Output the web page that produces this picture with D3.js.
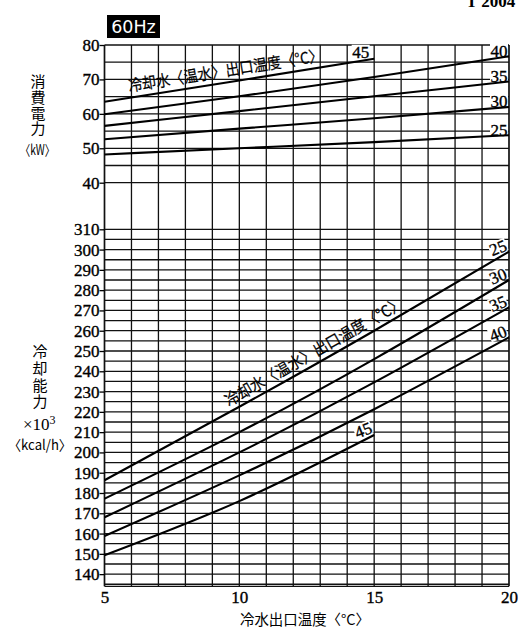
<!DOCTYPE html>
<html><head><meta charset="utf-8">
<script src="https://cdn.jsdelivr.net/npm/d3@7/dist/d3.min.js"></script>
<style>body{margin:0;background:#fff}svg{display:block}</style>
</head><body>
<svg id="c" width="520" height="632"></svg>
<script>
// ---- data ----
const xTicks = [5, 10, 15, 20];
const powerTicks = [40, 50, 60, 70, 80];
const capTicks = [140,150,160,170,180,190,200,210,220,230,240,250,260,270,280,290,300,310];
const chilledX = [5, 10, 15, 20];
const coolTemps = ["25", "30", "35", "40", "45"];
const power25 = [48.2, 50.0, 51.8, 53.8];
const power30 = [52.6, 55.7, 58.7, 62.0];
const power35 = [56.5, 60.8, 65.1, 69.4];
const power40 = [59.9, 65.1, 70.7, 76.7];
const power45 = [63.5, 69.7, 76.0];
const cap25 = [186.3, 222.5, 260.0, 299.0];
const cap30 = [177.2, 210.0, 246.0, 285.0];
const cap35 = [168.0, 200.0, 234.5, 271.5];
const cap40 = [158.8, 188.7, 221.3, 256.7];
const cap45 = [149.3, 176.0, 208.6];
const curveLabel = "冷却水〈温水〉出口温度〈°C〉";
const powerTitle = "消費電力";
const capTitle = "冷却能力";

// ---- scales ----
const svg = d3.select("#c");
const x = d3.scaleLinear().domain([5, 20]).range([104.5, 509]);
const yP = d3.scaleLinear().domain([40, 80]).range([182.7, 45]);
const yC = d3.scaleLinear().domain([134, 310]).range([586.3, 229.3]);
const serif = "'Liberation Serif','Times New Roman',serif";
const cjk = "'Noto Sans CJK JP','Noto Sans CJK SC',sans-serif";

const powerSeries = [power25, power30, power35, power40, power45].map((v, i) => ({t: coolTemps[i], pts: v.map((d, j) => [chilledX[j], d])}));
const capSeries = [cap25, cap30, cap35, cap40, cap45].map((v, i) => ({t: coolTemps[i], pts: v.map((d, j) => [chilledX[j], d])}));

// ---- grid ----
const grid = svg.append("g").attr("stroke", "#111").attr("stroke-width", 1.3);
grid.selectAll(".vx").data(d3.range(5, 21, 1)).join("line")
  .attr("x1", d => x(d)).attr("x2", d => x(d)).attr("y1", yP(80)).attr("y2", yC(134))
  .attr("stroke-width", d => (d === 5 || d === 20) ? 1.7 : 1.3);
grid.selectAll(".hp").data(d3.range(40, 81, 5)).join("line")
  .attr("x1", x(5)).attr("x2", x(20)).attr("y1", d => yP(d)).attr("y2", d => yP(d));
grid.selectAll(".hc").data(d3.range(135, 311, 5).concat([134])).join("line")
  .attr("x1", x(5)).attr("x2", x(20)).attr("y1", d => yC(d)).attr("y2", d => yC(d));

// ---- axes ----
function styleAxis(g) {
  g.select(".domain").remove();
  g.attr("font-family", serif).attr("font-size", 17);
  g.selectAll(".tick line").attr("stroke", "#000").attr("stroke-width", 1.3);
  g.selectAll(".tick text").attr("fill", "#000").attr("stroke", "#000").attr("stroke-width", 0.35);
}
svg.append("g").attr("transform", `translate(${x(5)},0)`)
  .call(d3.axisLeft(yP).tickValues(powerTicks).tickSize(5).tickPadding(0)).call(styleAxis);
svg.append("g").attr("transform", `translate(${x(5)},0)`)
  .call(d3.axisLeft(yC).tickValues(capTicks).tickSize(5).tickPadding(0)).call(styleAxis);
svg.append("g").attr("transform", `translate(0,${yC(134)})`)
  .call(d3.axisBottom(x).tickValues(xTicks).tickSize(0).tickPadding(5)).call(styleAxis);

// ---- label backgrounds & labels ----
function rightLabel(g, s, yScale, rot, dx, dy) {
  const last = s.pts[s.pts.length - 1];
  const cx = x(last[0]) + dx, cy = yScale(last[1]) + dy;
  const gg = g.append("g").attr("transform", `translate(${cx},${cy}) rotate(${rot})`);
  gg.append("rect").attr("x", -9).attr("y", -7).attr("width", 18).attr("height", 13).attr("fill", "#fff");
  gg.append("text").attr("text-anchor", "middle").attr("dy", "0.35em")
    .attr("font-family", serif).attr("font-size", 17).attr("fill", "#000")
    .attr("stroke", "#000").attr("stroke-width", 0.35).text(s.t);
}
const labels = svg.append("g");
powerSeries.forEach(s => {
  if (s.t === "45") rightLabel(labels, s, yP, 0, -13.5, -7);
  else rightLabel(labels, s, yP, 0, -10, -5.5);
});
capSeries.forEach(s => {
  if (s.t === "45") rightLabel(labels, s, yC, -22, -11, -5);
  else rightLabel(labels, s, yC, -22, -11, -4);
});

// ---- curves ----
const lineP = d3.line().x(d => x(d[0])).y(d => yP(d[1])).curve(d3.curveNatural);
const lineC = d3.line().x(d => x(d[0])).y(d => yC(d[1])).curve(d3.curveNatural);
svg.append("g").selectAll("path").data(powerSeries).join("path")
  .attr("d", d => lineP(d.pts)).attr("fill", "none").attr("stroke", "#000").attr("stroke-width", 2.1);
svg.append("g").selectAll("path").data(capSeries).join("path")
  .attr("d", d => lineC(d.pts)).attr("fill", "none").attr("stroke", "#000").attr("stroke-width", 2.1);

// ---- text along curves ----
function interp(pts, xv) {
  for (let i = 0; i < pts.length - 1; i++) {
    if (xv >= pts[i][0] && xv <= pts[i + 1][0]) {
      const f = (xv - pts[i][0]) / (pts[i + 1][0] - pts[i][0]);
      return pts[i][1] + f * (pts[i + 1][1] - pts[i][1]);
    }
  }
  return pts[pts.length - 1][1];
}
function alongText(pts, yScale, x0, x1, off, len) {
  const px0 = x(x0), py0 = yScale(interp(pts, x0));
  const px1 = x(x1), py1 = yScale(interp(pts, x1));
  const ang = Math.atan2(py1 - py0, px1 - px0);
  const nx = Math.sin(ang) * off, ny = -Math.cos(ang) * off;
  svg.append("g").attr("transform", `translate(${px0 + nx},${py0 + ny}) rotate(${ang * 180 / Math.PI})`)
    .append("text").attr("font-family", cjk).attr("font-size", 16).attr("fill", "#000")
    .attr("stroke", "#000").attr("stroke-width", 0.2)
    .attr("textLength", len).attr("lengthAdjust", "spacingAndGlyphs").text(curveLabel);
}
alongText(power45.map((d, j) => [chilledX[j], d]), yP, 5.95, 13.2, 6, 197);
alongText(cap25.map((d, j) => [chilledX[j], d]), yC, 9.7, 16.2, 5, 203);

// ---- titles (vertical writing) ----
svg.append("text").attr("x", 38).attr("y", 74).attr("font-family", cjk).attr("font-size", 15)
  .attr("letter-spacing", 0.7).style("writing-mode", "vertical-rl").attr("fill", "#000").text(powerTitle);
svg.append("text").attr("x", 37.5).attr("y", 155).attr("text-anchor", "middle").attr("font-family", cjk)
  .attr("font-size", 14).attr("textLength", 35).attr("lengthAdjust", "spacingAndGlyphs").attr("fill", "#000").text("〈kW〉");

svg.append("text").attr("x", 40).attr("y", 344).attr("font-family", cjk).attr("font-size", 15)
  .attr("letter-spacing", 1.7).style("writing-mode", "vertical-rl").attr("fill", "#000").text(capTitle);
const t10 = svg.append("text").attr("x", 23).attr("y", 430).attr("font-family", serif).attr("font-size", 17).attr("fill", "#000");
t10.append("tspan").text("×10");
t10.append("tspan").attr("dy", -6).attr("font-size", 12).text("3");
svg.append("text").attr("x", 40).attr("y", 450).attr("text-anchor", "middle").attr("font-family", cjk)
  .attr("font-size", 14).attr("textLength", 64).attr("lengthAdjust", "spacingAndGlyphs").attr("fill", "#000").text("〈kcal/h〉");

svg.append("text").attr("x", 240).attr("y", 624.5).attr("font-family", cjk).attr("font-size", 14.5).attr("fill", "#000")
  .attr("textLength", 130).attr("lengthAdjust", "spacingAndGlyphs").text("冷水出口温度〈°C〉");

// ---- 60Hz badge ----
svg.append("rect").attr("x", 107).attr("y", 15).attr("width", 53).attr("height", 23).attr("fill", "#000");
svg.append("text").attr("x", 133.5).attr("y", 33).attr("text-anchor", "middle").attr("fill", "#fff")
  .attr("font-family", "'DejaVu Sans',sans-serif").attr("font-size", 17.5).text("60Hz");

// ---- page id (cut off at top edge, as in the source) ----
svg.append("text").attr("x", 466).attr("y", 7).attr("font-family", serif).attr("font-weight", "bold")
  .attr("font-size", 17).text("T 2004");
</script>
</body></html>
